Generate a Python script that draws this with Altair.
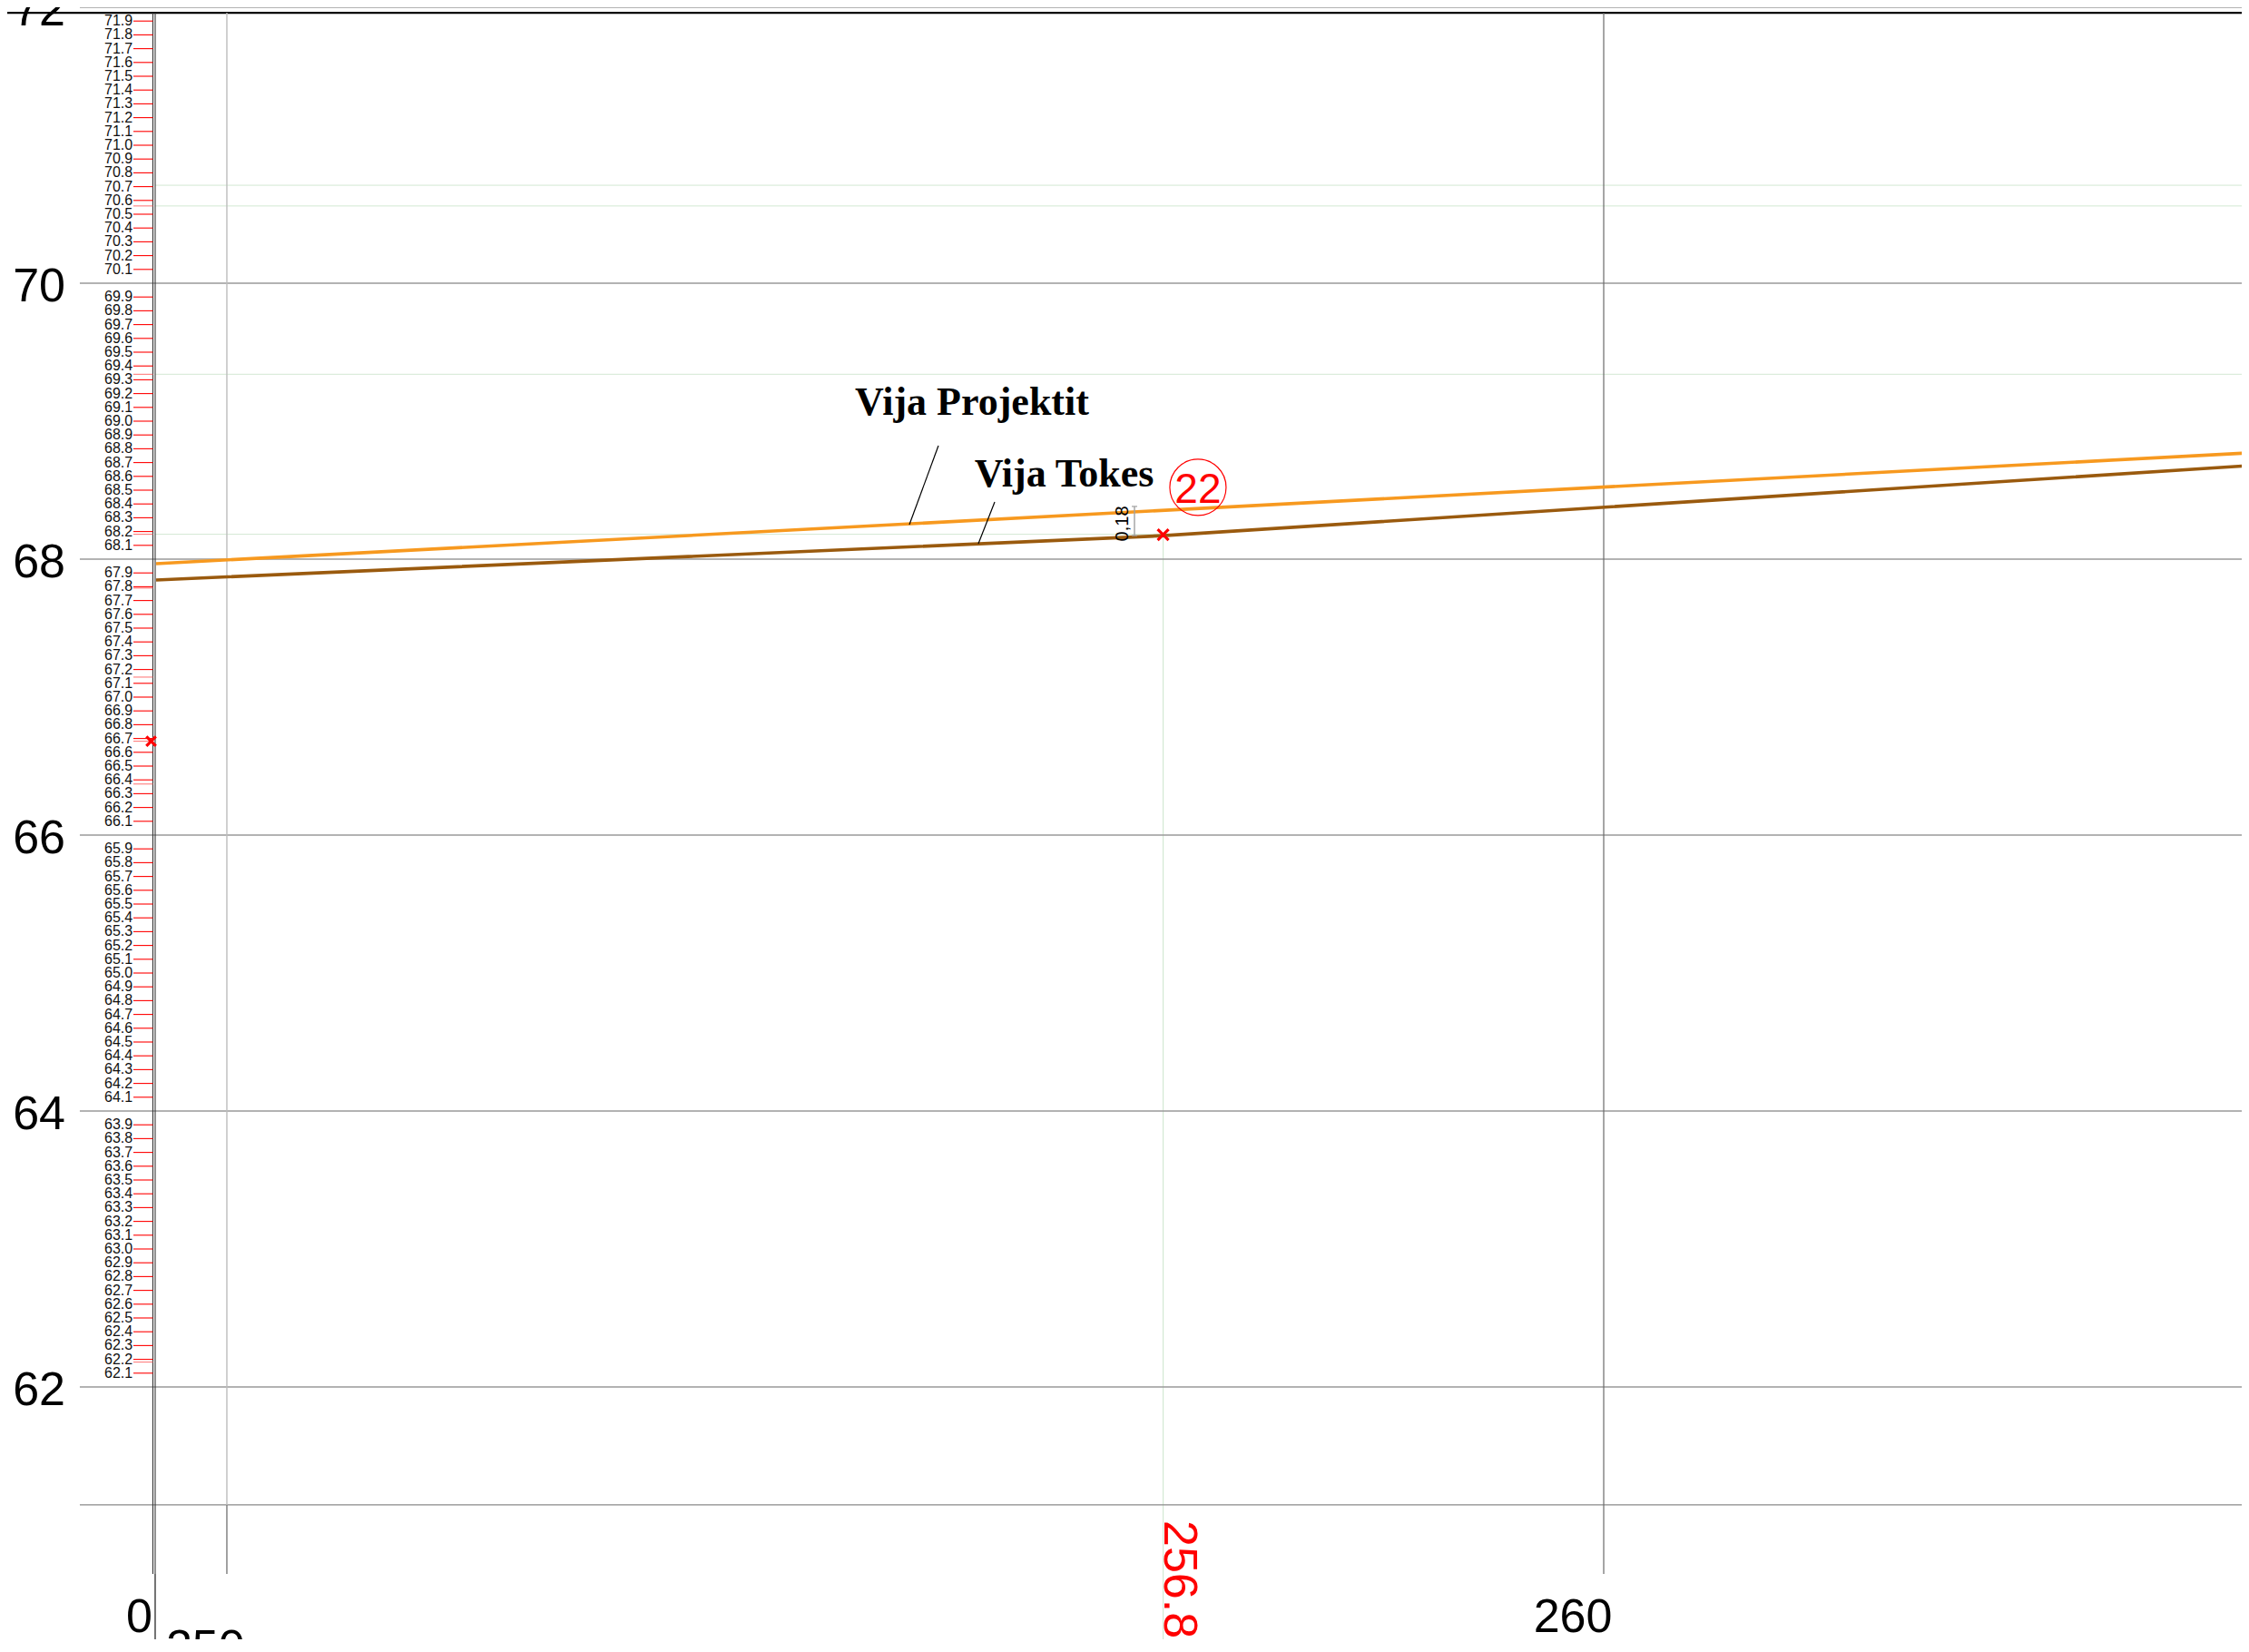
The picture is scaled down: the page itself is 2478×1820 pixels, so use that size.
import altair as alt
import pandas as pd

# ---------------- data ----------------
# major elevation grid (m) and their labels
elev_major = [62, 64, 66, 68, 70, 72]
elev_major_labels = ["62", "64", "66", "68", "70", "72"]

# minor elevation ticks on the profile axis (every 0.1 m, majors omitted)
minor_labels = [
    "62.1", "62.2", "62.3", "62.4", "62.5", "62.6", "62.7", "62.8", "62.9",
    "63.0", "63.1", "63.2", "63.3", "63.4", "63.5", "63.6", "63.7", "63.8", "63.9",
    "64.1", "64.2", "64.3", "64.4", "64.5", "64.6", "64.7", "64.8", "64.9",
    "65.0", "65.1", "65.2", "65.3", "65.4", "65.5", "65.6", "65.7", "65.8", "65.9",
    "66.1", "66.2", "66.3", "66.4", "66.5", "66.6", "66.7", "66.8", "66.9",
    "67.0", "67.1", "67.2", "67.3", "67.4", "67.5", "67.6", "67.7", "67.8", "67.9",
    "68.1", "68.2", "68.3", "68.4", "68.5", "68.6", "68.7", "68.8", "68.9",
    "69.0", "69.1", "69.2", "69.3", "69.4", "69.5", "69.6", "69.7", "69.8", "69.9",
    "70.1", "70.2", "70.3", "70.4", "70.5", "70.6", "70.7", "70.8", "70.9",
    "71.0", "71.1", "71.2", "71.3", "71.4", "71.5", "71.6", "71.7", "71.8", "71.9",
]
# extra (secondary) red marks on the axis
extra_marks = [70.56, 69.34, 68.18, 67.79, 67.145, 66.68, 66.37, 62.18]

# faint reference levels
faint_levels = [70.71, 70.56, 69.34]

# station grid
stations_major = [250, 260]
station_labels = ["250", "260"]
origin_label = "0"

# profile lines
projekt_x = [249.486, 264.687]
projekt_y = [67.967, 68.770]
toke_x = [249.486, 256.8, 264.687]
toke_y = [67.849, 68.170, 68.678]

# point 22
point_station = 256.8
point_ground = 68.177
point_id = "22"
point_station_label = "256.8"
diff_label = "0,18"
axis_marker_elev = 66.68

# ---------------- scales ----------------
X_DOM = [248.405, 264.634]
Y_DOM = [60.171, 72.0]
XR = X_DOM[1]
YB = Y_DOM[0]
xs = alt.Scale(domain=X_DOM, nice=False, zero=False)
ys = alt.Scale(domain=Y_DOM, nice=False, zero=False)

AX_L = 249.4627   # profile axis (double line)
AX_R = 249.4793
TOP = 71.96
BASE = 61.145
GRID_END = 60.645


def X(f="x"):
    return alt.X(f"{f}:Q", scale=xs, axis=None)


def Y(f="y"):
    return alt.Y(f"{f}:Q", scale=ys, axis=None)


def hrules(df, color, width=1.0, opacity=1.0):
    return alt.Chart(df).mark_rule(color=color, strokeWidth=width, opacity=opacity).encode(
        x=X("x"), x2="x2:Q", y=Y("y"))


def vrules(df, color, width=1.0, opacity=1.0):
    return alt.Chart(df).mark_rule(color=color, strokeWidth=width, opacity=opacity).encode(
        x=X("x"), y=Y("y"), y2="y2:Q")


def texts(df, **kw):
    base = dict(font="Liberation Sans", color="#000000")
    base.update(kw)
    return alt.Chart(df).mark_text(**base).encode(x=X("x"), y=Y("y"), text="t:N")


layers = []

# faint green reference lines
faint_h = pd.DataFrame({"x": [AX_R] * len(faint_levels) + [AX_R],
                        "x2": [XR] * len(faint_levels) + [point_station],
                        "y": faint_levels + [68.18]})
layers.append(hrules(faint_h, "#d3e8d3", 1.0))
layers.append(vrules(pd.DataFrame({"x": [point_station], "y": [YB], "y2": [point_ground]}),
                     "#d3e8d3", 1.2))

# horizontal major grid
grid_h = pd.DataFrame({"x": [248.932] * len(elev_major), "x2": [XR] * len(elev_major),
                       "y": elev_major})
layers.append(hrules(grid_h, "#9a9a9a", 1.3))
# base line
layers.append(hrules(pd.DataFrame({"x": [248.932], "x2": [XR], "y": [BASE]}), "#8a8a8a", 1.3))
# top border
layers.append(hrules(pd.DataFrame({"x": [X_DOM[0]], "x2": [XR], "y": [TOP]}), "#000000", 2.4))

# vertical grid
layers.append(vrules(pd.DataFrame({"x": [stations_major[0]], "y": [BASE], "y2": [TOP]}), "#bdbdbd", 1.4))
layers.append(vrules(pd.DataFrame({"x": [stations_major[0]], "y": [GRID_END], "y2": [BASE]}), "#7a7a7a", 1.4))
layers.append(vrules(pd.DataFrame({"x": [stations_major[1]], "y": [GRID_END], "y2": [TOP]}), "#6a6a6a", 1.2))

# profile axis double line
layers.append(vrules(pd.DataFrame({"x": [AX_L, AX_R], "y": [GRID_END] * 2, "y2": [TOP] * 2}), "#333333", 1.1))
layers.append(vrules(pd.DataFrame({"x": [AX_R], "y": [YB], "y2": [GRID_END]}), "#000000", 1.1))

# minor red ticks + labels
minor_vals = [float(s) for s in minor_labels]
ticks = pd.DataFrame({"x": [249.321] * len(minor_vals), "x2": [AX_L] * len(minor_vals),
                      "y": minor_vals, "t": minor_labels})
layers.append(hrules(ticks, "#ff0000", 1.1))
extra = pd.DataFrame({"x": [249.321] * len(extra_marks), "x2": [AX_L] * len(extra_marks),
                      "y": extra_marks})
layers.append(hrules(extra, "#ff7070", 1.0))
minor_txt = pd.DataFrame({"x": [249.316] * len(minor_vals), "y": minor_vals, "t": minor_labels})
layers.append(texts(minor_txt, align="right", baseline="middle", fontSize=16, color="#111111"))

# major elevation labels
maj = pd.DataFrame({"x": [248.827] * len(elev_major), "y": elev_major, "t": elev_major_labels})
layers.append(texts(maj, align="right", baseline="middle", fontSize=52, dy=4))

# bottom labels
layers.append(texts(pd.DataFrame({"x": [249.459], "y": [60.329], "t": [origin_label]}),
                    align="right", baseline="middle", fontSize=52))
layers.append(texts(pd.DataFrame({"x": [249.558], "y": [60.105], "t": [station_labels[0]]}),
                    align="left", baseline="middle", fontSize=52))
layers.append(texts(pd.DataFrame({"x": [259.776], "y": [60.329], "t": [station_labels[1]]}),
                    align="center", baseline="middle", fontSize=52))

# profile lines
layers.append(alt.Chart(pd.DataFrame({"x": projekt_x, "y": projekt_y})).mark_line(
    color="#f7991f", strokeWidth=3.6).encode(x=X("x"), y=Y("y")))
layers.append(alt.Chart(pd.DataFrame({"x": toke_x, "y": toke_y})).mark_line(
    color="#9a5a0e", strokeWidth=3.6).encode(x=X("x"), y=Y("y")))

# leader lines
leaders = pd.DataFrame({"x": [255.168, 255.577], "y": [68.822, 68.414],
                        "x2": [254.957, 255.458], "y2": [68.250, 68.112]})
layers.append(alt.Chart(leaders).mark_rule(color="#000000", strokeWidth=1.2).encode(
    x=X("x"), y=Y("y"), x2="x2:Q", y2="y2:Q"))

# line names
names = pd.DataFrame({"x": [255.412, 256.081], "y": [69.046, 68.526],
                      "t": ["Vija Projektit", "Vija Tokes"]})
layers.append(texts(names, align="center", baseline="alphabetic", fontSize=44,
                    font="Liberation Serif", fontWeight="bold"))

# point 22 circle + number
layers.append(alt.Chart(pd.DataFrame({"x": [257.053], "y": [68.52]})).mark_point(
    shape="circle", size=3848, filled=False, color="#ff0000", strokeWidth=1.2, opacity=1).encode(
    x=X("x"), y=Y("y")))
layers.append(texts(pd.DataFrame({"x": [257.053], "y": [68.50], "t": [point_id]}),
                    align="center", baseline="middle", fontSize=46, color="#ff0000"))

# red X markers
xmarks = pd.DataFrame({"x": [point_station, 249.45], "y": [point_ground, axis_marker_elev],
                       "s": [144, 110]})
layers.append(alt.Chart(xmarks).mark_point(
    shape="M-1,-1L1,1M1,-1L-1,1", filled=False, color="#ff0000", strokeWidth=3.2, opacity=1).encode(
    x=X("x"), y=Y("y"), size=alt.Size("s:Q", scale=None, legend=None)))

# dimension 0,18
layers.append(vrules(pd.DataFrame({"x": [256.592], "y": [68.171], "y2": [68.382]}), "#a0a0a0", 1.4))
dim_ticks = pd.DataFrame({"x": [256.572, 256.572], "x2": [256.612, 256.612], "y": [68.171, 68.382]})
layers.append(hrules(dim_ticks, "#a0a0a0", 1.2))
layers.append(texts(pd.DataFrame({"x": [256.506], "y": [68.257], "t": [diff_label]}),
                    align="center", baseline="middle", fontSize=20, angle=270))

# station label of point 22
layers.append(texts(pd.DataFrame({"x": [256.809], "y": [61.033], "t": [point_station_label]}),
                    align="left", baseline="alphabetic", fontSize=52, angle=90, color="#ff0000"))

chart = alt.layer(*layers).properties(
    width=2462, height=1798,
    autosize=alt.AutoSizeParams(type="none"),
    padding=0,
    background="#ffffff",
).configure_view(stroke=None)

chart.save("out.html", embed_options={"renderer": "svg", "actions": False})
